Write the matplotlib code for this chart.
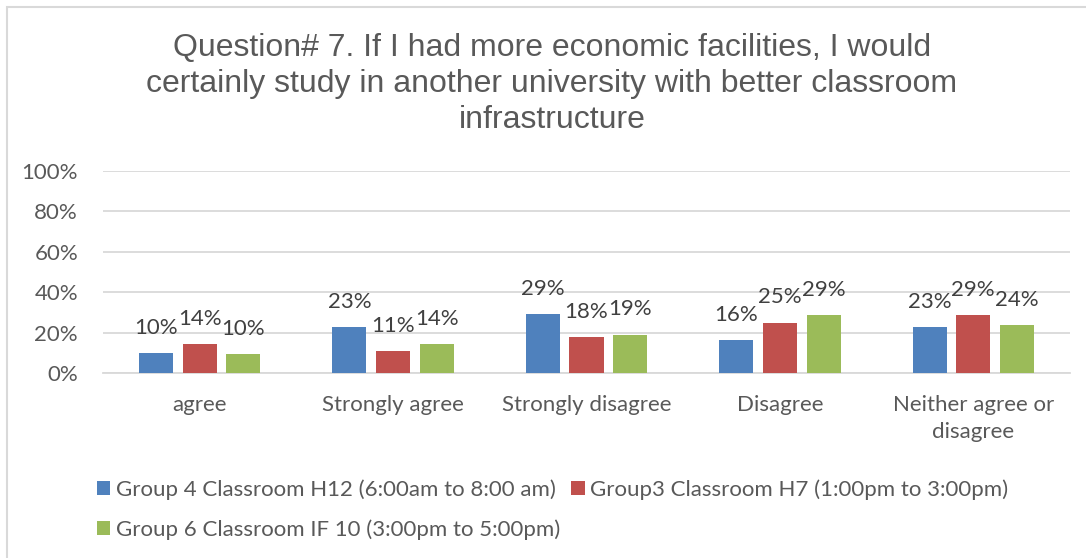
import numpy as np
import matplotlib.pyplot as plt
from matplotlib.patches import Rectangle
import matplotlib.ticker as mticker

categories = ["agree", "Strongly agree", "Strongly disagree", "Disagree",
              "Neither agree or\ndisagree"]
series_names = ["Group 4 Classroom H12 (6:00am to 8:00 am)",
                "Group3 Classroom H7 (1:00pm to 3:00pm)",
                "Group 6 Classroom IF 10 (3:00pm to 5:00pm)"]
group4 = [0.098, 0.226, 0.290, 0.161, 0.226]
group3 = [0.143, 0.107, 0.179, 0.250, 0.286]
group6 = [0.095, 0.143, 0.190, 0.286, 0.238]
yticks = [0, 0.2, 0.4, 0.6, 0.8, 1.0]

COLORS = ["#4F81BD", "#C0504D", "#9BBB59"]
TXT = "#595959"
GRID = "#D9D9D9"
BODY = ["Lato", "DejaVu Sans"]
FS = 16

fig = plt.figure(figsize=(10.86, 5.58), dpi=100, facecolor="white")
W, H = 1086, 558
ax = fig.add_axes([103 / W, (H - 373) / H, (1070 - 103) / W, (373 - 171) / H])

x = np.arange(len(categories))
w, step = 0.176, 0.226
for k, (vals, c, name) in enumerate(zip([group4, group3, group6], COLORS, series_names)):
    xs = x + (k - 1) * step
    ax.bar(xs, vals, w, color=c, label=name, zorder=3)
    for xi, v in zip(xs, vals):
        ax.annotate(f"{v:.0%}", (xi, v), xytext=(0, 11), textcoords="offset points",
                    ha="center", va="bottom", fontsize=FS, color="#404040",
                    family=BODY)

ax.set_xlim(-0.5, len(categories) - 0.5)
ax.set_ylim(0, 1)
ax.set_yticks(yticks)
ax.yaxis.set_major_formatter(mticker.PercentFormatter(xmax=1, decimals=0))
ax.grid(axis="y", color=GRID, linewidth=1.3, zorder=0)
for s in ["top", "right", "left"]:
    ax.spines[s].set_visible(False)
ax.spines["bottom"].set_color(GRID)
ax.spines["bottom"].set_linewidth(1.3)
ax.tick_params(length=0, colors=TXT, labelsize=FS)
ax.tick_params(axis="y", pad=18)
ax.tick_params(axis="x", pad=16)
ax.set_xticks(x)
ax.set_xticklabels(categories, linespacing=1.45)
for lab in ax.get_xticklabels() + ax.get_yticklabels():
    lab.set_family(BODY)

fig.text(552 / W, 1 - 84 / H, "Question# 7. If I had more economic facilities, I would\n"
         "certainly study in another university with better classroom\ninfrastructure",
         ha="center", va="center", fontsize=23, color=TXT,
         family="Liberation Sans", linespacing=1.27)

h, l = ax.get_legend_handles_labels()
order = [0, 2, 1]
leg = fig.legend([h[i] for i in order], [l[i] for i in order], ncol=2,
                 loc="upper left", bbox_to_anchor=(77 / W, 1 - 459 / H),
                 frameon=False, handlelength=0.6, handleheight=0.6,
                 handletextpad=0.25, columnspacing=0.5, labelspacing=0.88,
                 prop={"family": BODY, "size": FS})
for t in leg.get_texts():
    t.set_color(TXT)

fig.patches.append(Rectangle((7 / W, -0.1), 1.2, 1 - 7 / H + 0.1,
                             transform=fig.transFigure, fill=False,
                             edgecolor=GRID, linewidth=1.5))

fig.savefig("out.png", dpi=100, facecolor="white")
